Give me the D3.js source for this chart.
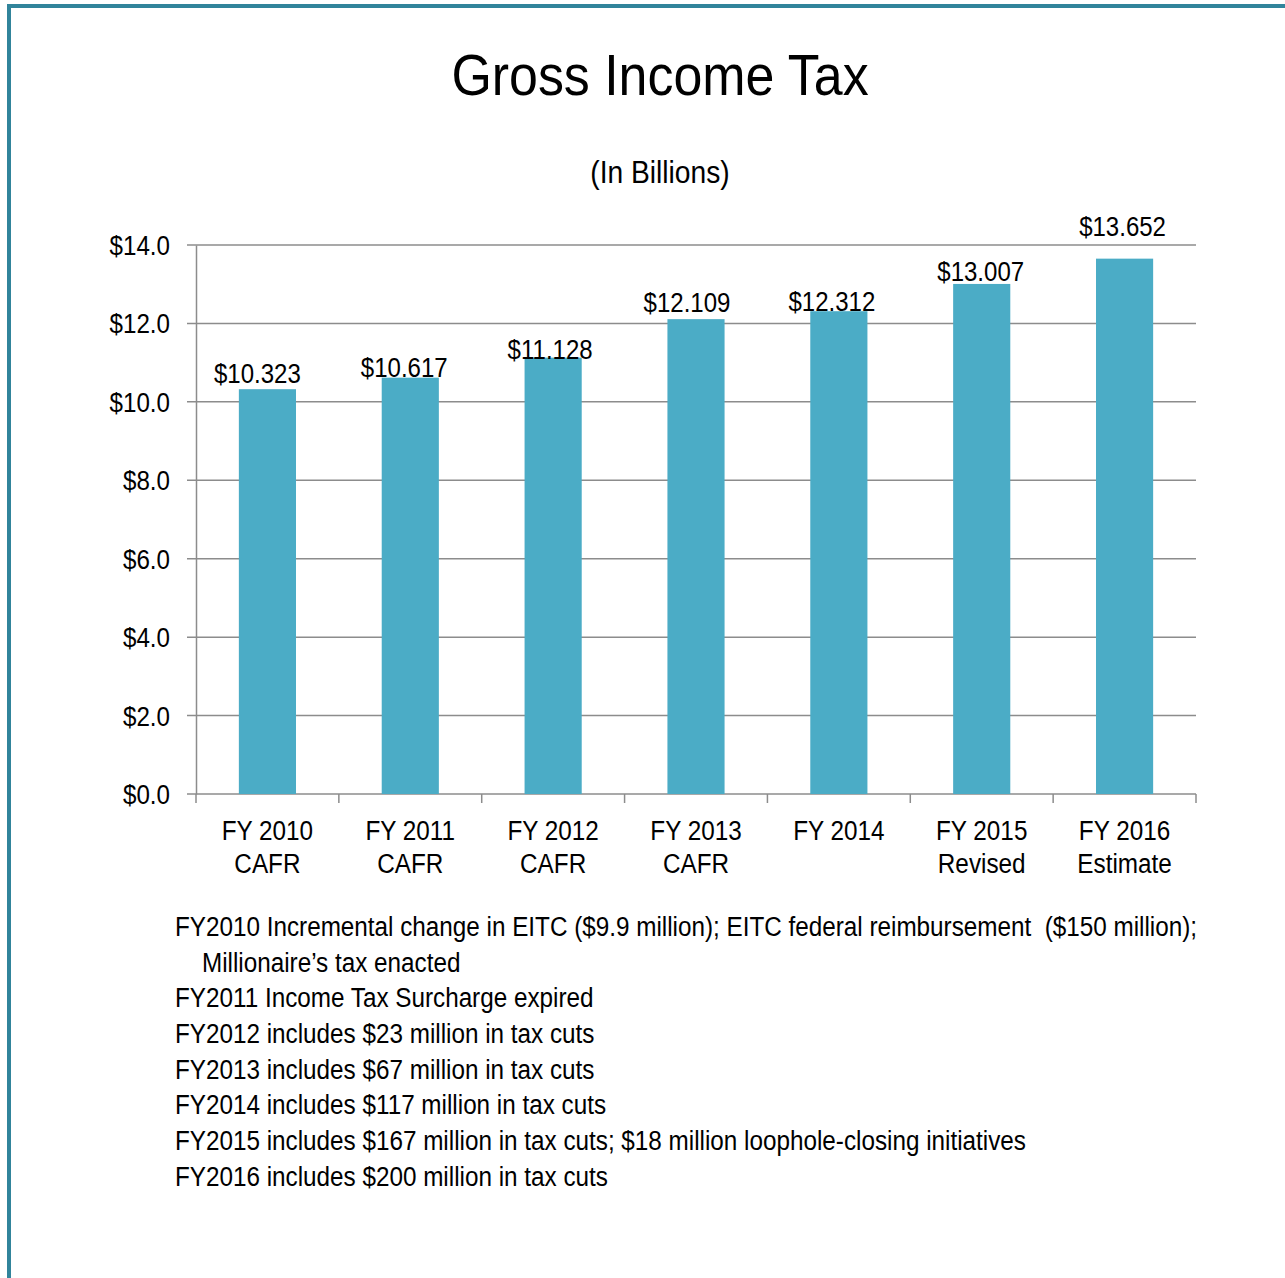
<!DOCTYPE html>
<html>
<head>
<meta charset="utf-8">
<script src="https://cdn.jsdelivr.net/npm/d3@7"></script>
<style>
  html, body { margin: 0; padding: 0; background: #fff; }
  svg text { font-family: "Liberation Sans Narrow", "Arial Narrow", "Liberation Sans", Arial, sans-serif; fill: #000; }
</style>
</head>
<body>
<svg id="chart" width="1285" height="1278"></svg>
<script>
const categories = [["FY 2010", "CAFR"], ["FY 2011", "CAFR"], ["FY 2012", "CAFR"], ["FY 2013", "CAFR"], ["FY 2014", ""], ["FY 2015", "Revised"], ["FY 2016", "Estimate"]];
const values = [10.323, 10.617, 11.128, 12.109, 12.312, 13.007, 13.652];
const valueLabels = ["$10.323", "$10.617", "$11.128", "$12.109", "$12.312", "$13.007", "$13.652"];
const yTicks = [0, 2, 4, 6, 8, 10, 12, 14];
const notes = [
  "FY2010 Incremental change in EITC ($9.9 million); EITC federal reimbursement  ($150 million);",
  "    Millionaire\u2019s tax enacted",
  "FY2011 Income Tax Surcharge expired",
  "FY2012 includes $23 million in tax cuts",
  "FY2013 includes $67 million in tax cuts",
  "FY2014 includes $117 million in tax cuts",
  "FY2015 includes $167 million in tax cuts; $18 million loophole-closing initiatives",
  "FY2016 includes $200 million in tax cuts"
];

const svg = d3.select("#chart");
const border = "#31849B";
const grid = "#8C8C8C";
const barColor = "#4BACC6";

// horizontally condense text around its own x anchor (no narrow font installed)
function squeeze(sel, k) {
  sel.each(function() {
    const ax = +this.getAttribute("x") || 0;
    d3.select(this).attr("transform", `translate(${ax},0) scale(${k},1) translate(${-ax},0)`);
  });
}

// frame
svg.append("rect").attr("x", 7).attr("y", 4).attr("width", 1278).attr("height", 4).attr("fill", border);
svg.append("rect").attr("x", 7).attr("y", 4).attr("width", 4).attr("height", 1274).attr("fill", border);

// title
squeeze(svg.append("text").attr("x", 660).attr("y", 95).attr("text-anchor", "middle")
  .style("font-size", "58px").text("Gross Income Tax"), 0.895);
squeeze(svg.append("text").attr("x", 660).attr("y", 183).attr("text-anchor", "middle")
  .style("font-size", "31px").text("(In Billions)"), 0.91);

const L = 196, R = 1196, T = 245, B = 794;
const x = d3.scaleBand().domain(d3.range(values.length)).range([L, R]).paddingInner(0.6).paddingOuter(0.3);
const y = d3.scaleLinear().domain([0, 14]).range([B, T]);

// gridlines
svg.append("g").selectAll("line").data(yTicks).join("line")
  .attr("x1", L - 9).attr("x2", R).attr("y1", d => y(d)).attr("y2", d => y(d))
  .attr("stroke", grid).attr("stroke-width", 1.5);

// y axis
const yAxis = d3.axisLeft(y).tickValues(yTicks).tickSize(0).tickPadding(26)
  .tickFormat(d => "$" + d3.format(".1f")(d));
const gy = svg.append("g").attr("transform", `translate(${L},0)`).call(yAxis);
gy.select(".domain").attr("stroke", grid).attr("stroke-width", 1.5);
gy.selectAll("text").style("font-size", "27px").attr("fill", "#000").attr("dy", "0.35em");
squeeze(gy.selectAll("text"), 0.895);

// x axis ticks at category boundaries
const step = x.step();
const bounds = d3.range(values.length + 1).map(i => L + i * step);
svg.append("g").selectAll("line").data(bounds).join("line")
  .attr("x1", d => d).attr("x2", d => d).attr("y1", B).attr("y2", B + 9)
  .attr("stroke", grid).attr("stroke-width", 1.5);

// bars
svg.append("g").selectAll("rect").data(values).join("rect")
  .attr("x", (d, i) => x(i)).attr("width", x.bandwidth())
  .attr("y", d => y(d)).attr("height", d => B - y(d))
  .attr("fill", barColor);

// value labels
const labelNudge = [[-10, -6], [-6, -1], [-3, 1], [-9, -7], [-7, 0], [-1, -3], [-2, -23]];
squeeze(svg.append("g").selectAll("text").data(values).join("text")
  .attr("x", (d, i) => x(i) + x.bandwidth() / 2 + labelNudge[i][0])
  .attr("y", (d, i) => y(d) + labelNudge[i][1])
  .attr("text-anchor", "middle").style("font-size", "27px")
  .text((d, i) => valueLabels[i]), 0.89);

// category labels (one text per line)
const catLines = [];
categories.forEach((c, i) => c.forEach((line, j) => { if (line) catLines.push({ i, j, line }); }));
squeeze(svg.append("g").selectAll("text").data(catLines).join("text")
  .attr("x", d => x(d.i) + x.bandwidth() / 2)
  .attr("y", d => 840 + d.j * 33)
  .attr("text-anchor", "middle").style("font-size", "27px")
  .text(d => d.line), 0.9);

// notes
squeeze(svg.append("g").selectAll("text").data(notes).join("text")
  .attr("x", 175).attr("y", (d, i) => 936 + i * 35.7)
  .style("font-size", "28px").attr("xml:space", "preserve").style("white-space", "pre")
  .text(d => d), 0.867);
</script>
</body>
</html>
